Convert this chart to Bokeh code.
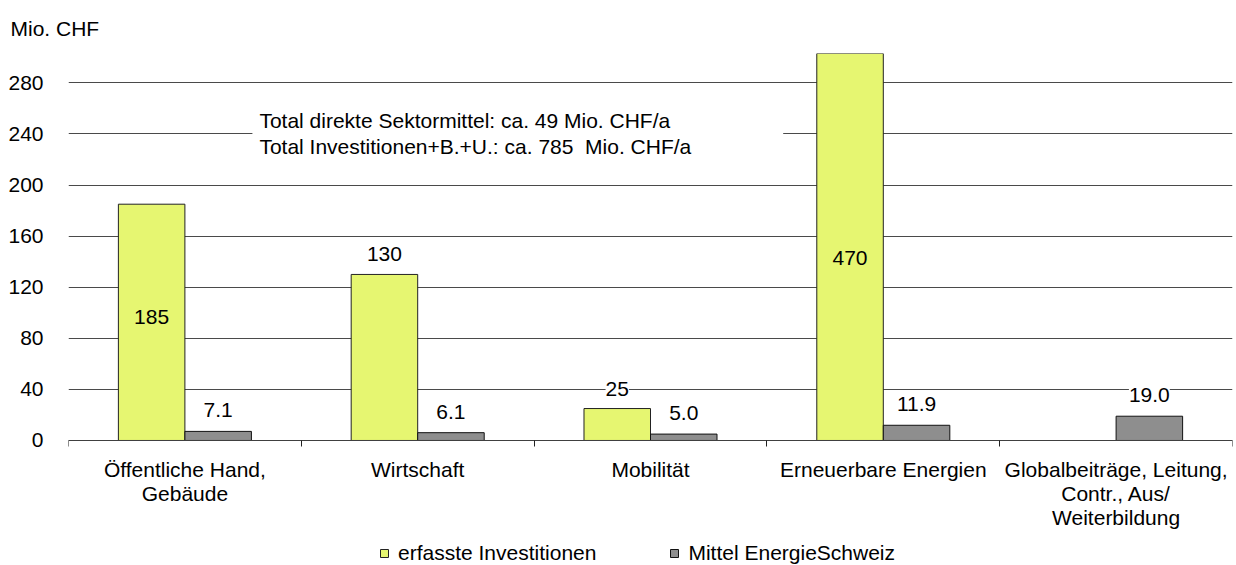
from bokeh.plotting import figure
from bokeh.models import (ColumnDataSource, FixedTicker, LabelSet, Label, BoxAnnotation,
                          Legend, LegendItem, Title)
from bokeh.core.properties import value
from bokeh.embed import file_html
from bokeh.resources import INLINE

# ---- data ----
categories = ["Öffentliche Hand,\nGebäude", "Wirtschaft", "Mobilität",
              "Erneuerbare Energien", "Globalbeiträge, Leitung,\nContr., Aus/\nWeiterbildung"]
investitionen = [185, 130, 25, 470, None]
energieschweiz = [7.1, 6.1, 5.0, 11.9, 19.0]
y_ticks = [0, 40, 80, 120, 160, 200, 240, 280]
series_names = ["erfasste Investitionen", "Mittel EnergieSchweiz"]
note_lines = ["Total direkte Sektormittel: ca. 49 Mio. CHF/a",
              "Total Investitionen+B.+U.: ca. 785\u00a0 Mio. CHF/a"]
unit_label = "Mio. CHF"

# ---- style / positions ----
FONT = "Liberation Sans"
FS = "21px"
YELLOW = "#E6F671"
GRAY = "#8E8E8E"
BAR_W = 1 / 3.5
Y_MAX = 303
Y_MIN = -97.9                      # room below the axis for category labels and legend
inside_label_idx = [0, 3]          # labels drawn inside the bar
inside_label_y = [97, 143]         # label positions (data units) inside bars
LINE_H = 24                        # px between category label lines

n = len(categories)
centers = [i + 0.5 for i in range(n)]

p = figure(width=1236, height=565, x_range=(0, n), y_range=(Y_MIN, Y_MAX),
           x_axis_location="above",
           output_backend="svg", toolbar_location=None,
           min_border_left=68, min_border_right=4, min_border_top=53, min_border_bottom=0)
p.outline_line_color = None
p.background_fill_color = "white"
p.border_fill_color = "white"

# grid
p.xgrid.visible = False
p.ygrid.ticker = FixedTicker(ticks=y_ticks)
p.ygrid.grid_line_color = "#4a4a4a"
p.ygrid.grid_line_width = 1

# y axis
p.yaxis.ticker = FixedTicker(ticks=y_ticks)
p.yaxis.axis_line_color = None
p.yaxis.major_tick_line_color = None
p.yaxis.minor_tick_line_color = None
p.yaxis.major_tick_out = 0
p.yaxis.major_tick_in = 0
p.yaxis.major_label_standoff = 25
p.yaxis.major_label_text_font = FONT
p.yaxis.major_label_text_font_size = FS
p.yaxis.major_label_text_color = "black"

# x axis: drawn at y = 0, ticks at category boundaries pointing down
p.xaxis.fixed_location = 0
p.xaxis.ticker = FixedTicker(ticks=[], minor_ticks=list(range(n + 1)))
p.xaxis.axis_line_color = "#404040"
p.xaxis.axis_line_width = 1
p.xaxis.major_tick_line_color = None
p.xaxis.major_tick_out = 0
p.xaxis.major_tick_in = 0
p.xaxis.minor_tick_line_color = "#202020"
p.xaxis.minor_tick_out = 0
p.xaxis.minor_tick_in = 6
p.xaxis.major_label_standoff = 0

# category labels under the axis, one centred label per line
cx, cy, coff, ctxt = [], [], [], []
for c, lab in zip(centers, categories):
    for k, line in enumerate(lab.split("\n")):
        cx.append(c)
        cy.append(0)
        coff.append(-18 - LINE_H * k)
        ctxt.append(line)
src_cat = ColumnDataSource(dict(x=cx, y=cy, off=coff, txt=ctxt))
p.add_layout(LabelSet(x="x", y="y", text="txt", source=src_cat, y_offset="off",
                      text_font=value(FONT), text_font_size=value(FS), text_align="center",
                      text_baseline="top", text_color="black"))

# unit label as a title
p.add_layout(Title(text=unit_label, align="left", offset=-58, standoff=28,
                   text_font=FONT, text_font_size=FS, text_font_style="normal",
                   text_color="black"), "above")

# bars
inv_idx = [i for i, v in enumerate(investitionen) if v is not None]
src_inv = ColumnDataSource(dict(x=[centers[i] - BAR_W / 2 for i in inv_idx],
                                top=[investitionen[i] for i in inv_idx],
                                txt=[str(investitionen[i]) for i in inv_idx]))
src_es = ColumnDataSource(dict(x=[c + BAR_W / 2 for c in centers], top=energieschweiz,
                               txt=[f"{v:.1f}" for v in energieschweiz]))
r_inv = p.vbar(x="x", top="top", width=BAR_W, bottom=0, source=src_inv,
               fill_color=YELLOW, line_color="#222222", line_width=1)
r_es = p.vbar(x="x", top="top", width=BAR_W, bottom=0, source=src_es,
              fill_color=GRAY, line_color="#111111", line_width=1)

# text box
p.add_layout(BoxAnnotation(left=0.79, right=3.07, bottom=219, top=263,
                           fill_color="white", fill_alpha=1, line_color=None))
for k, line in enumerate(note_lines):
    p.add_layout(Label(x=0.82, y=250.3 - k * 20.3, text=line, text_font=FONT,
                       text_font_size=FS, text_baseline="middle", text_align="left",
                       text_color="black"))

# bar value labels
above_inv = [j for j, i in enumerate(inv_idx) if i not in inside_label_idx]
src_inv_above = ColumnDataSource(dict(x=[src_inv.data["x"][j] for j in above_inv],
                                      y=[src_inv.data["top"][j] for j in above_inv],
                                      txt=[src_inv.data["txt"][j] for j in above_inv]))
src_inv_inside = ColumnDataSource(dict(x=[centers[i] - BAR_W / 2 for i in inside_label_idx],
                                       y=inside_label_y,
                                       txt=[str(investitionen[i]) for i in inside_label_idx]))
common = dict(text_font=value(FONT), text_font_size=value(FS), text_align="center",
              text_baseline="middle", text_color="black")
p.add_layout(LabelSet(x="x", y="y", text="txt", source=src_inv_above, y_offset=20,
                      background_fill_color="white", **common))
p.add_layout(LabelSet(x="x", y="y", text="txt", source=src_inv_inside, **common))
p.add_layout(LabelSet(x="x", y="top", text="txt", source=src_es, y_offset=21,
                      background_fill_color="white", **common))

# legend inside the (extended) frame, below the category labels
lg = Legend(items=[LegendItem(label=series_names[0], renderers=[r_inv]),
                   LegendItem(label=series_names[1], renderers=[r_es])],
            location=(311, 0), orientation="horizontal", glyph_width=10, glyph_height=10,
            label_standoff=9, label_height=24, padding=0, margin=0, spacing=73,
            border_line_color=None, background_fill_alpha=0,
            label_text_font=FONT, label_text_font_size=FS, label_text_color="black")
p.add_layout(lg, "center")

open("out.html", "w").write(file_html(p, INLINE))
